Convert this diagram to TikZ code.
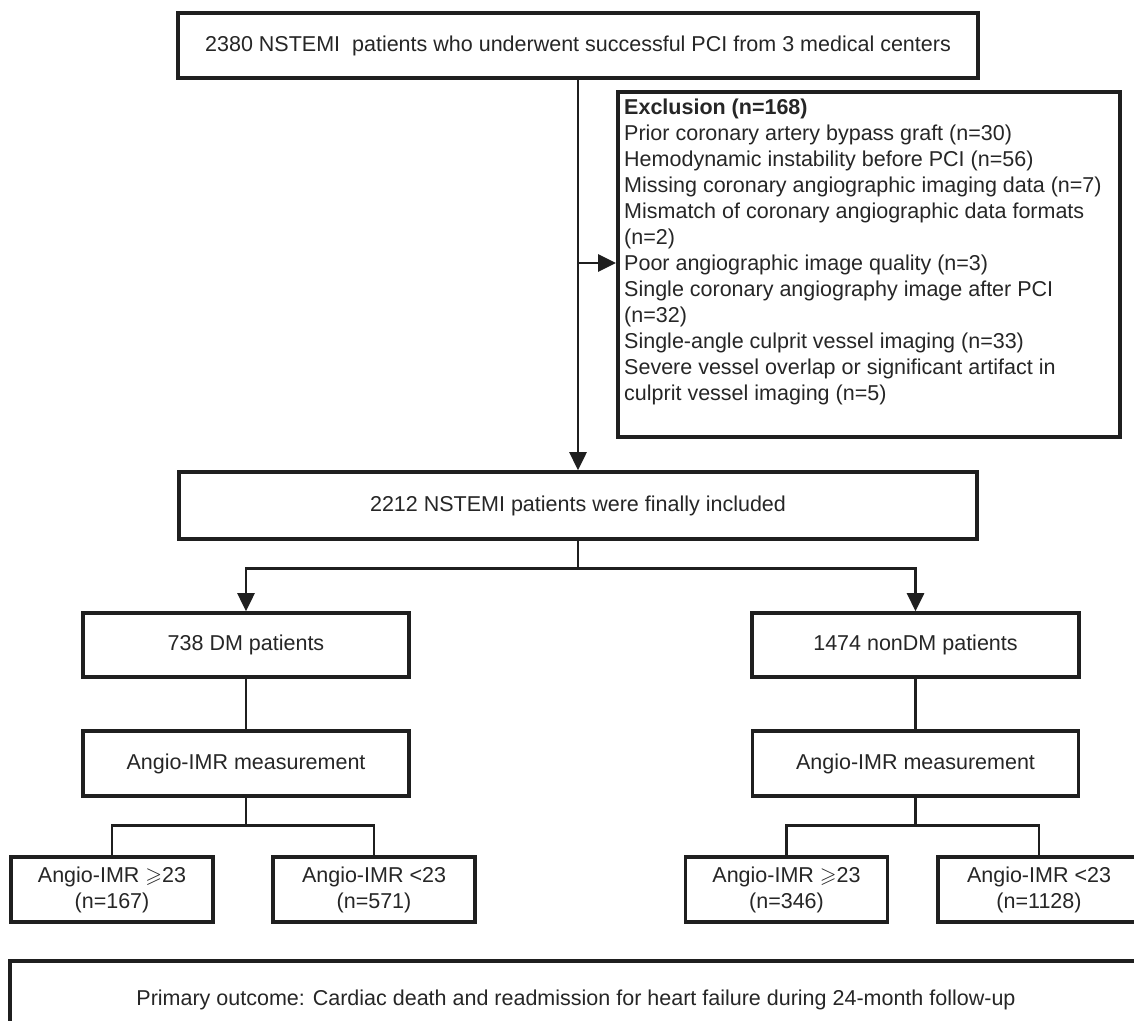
\documentclass[tikz,border=0pt]{standalone}
\usepackage{amssymb}
\usepackage{fontspec}
\setmainfont{Liberation Sans}
\usetikzlibrary{arrows.meta}
\begin{document}
\begin{tikzpicture}[x=1pt,y=-1pt,
  box/.style={draw=black!88, line width=3.6pt, rectangle, inner sep=0pt,
    font=\fontsize{21.5}{26}\selectfont, text=black!85},
  one/.style={text height=15.5pt, text depth=4.5pt},
  conn/.style={draw=black!88, line width=2.7pt},
  arr/.style={conn, -{Triangle[length=18pt,width=17pt]}},
  txt/.style={inner sep=0pt, font=\fontsize{21.5}{26}\selectfont, text=black!85}
]
\useasboundingbox (0,0) rectangle (1134,1020);
\clip (0,0) rectangle (1134,1020);
\fill[white] (0,0) rectangle (1134,1020);

\node[box,one,minimum width=800pt,minimum height=65pt] (top) at (578,45.5)
  {2380 NSTEMI\ \ patients who underwent successful PCI from 3 medical centers};
\node[box,minimum width=502pt,minimum height=345pt,anchor=north west] (excl) at (616,90) {};
\node[txt,align=left,anchor=north west] (excltext) at (624,99)
  {\textbf{Exclusion (n=168)}\\
   Prior coronary artery bypass graft (n=30)\\
   Hemodynamic instability before PCI (n=56)\\
   Missing coronary angiographic imaging data (n=7)\\
   Mismatch of coronary angiographic data formats\\
   (n=2)\\
   Poor angiographic image quality (n=3)\\
   Single coronary angiography image after PCI\\
   (n=32)\\
   Single-angle culprit vessel imaging (n=33)\\
   Severe vessel overlap or significant artifact in\\
   culprit vessel imaging (n=5)};
\node[box,one,minimum width=798pt,minimum height=67pt] (incl) at (578,505.5)
  {2212 NSTEMI patients were finally included};
\node[box,one,minimum width=326pt,minimum height=64pt] (dm) at (246,645) {738 DM patients};
\node[box,one,minimum width=327pt,minimum height=64pt] (nondm) at (915.5,645) {1474 nonDM patients};
\node[box,one,minimum width=326pt,minimum height=65pt] (imr1) at (246,763.5) {Angio-IMR measurement};
\node[box,one,minimum width=326pt,minimum height=65pt] (imr2) at (915.5,763.5) {Angio-IMR measurement};
\node[box,align=center,minimum width=202pt,minimum height=65pt] (hi1) at (112,889.5)
  {Angio-IMR $\geqslant$23\\(n=167)};
\node[box,align=center,minimum width=202pt,minimum height=65pt] (lo1) at (374,889.5)
  {Angio-IMR <23\\(n=571)};
\node[box,align=center,minimum width=202pt,minimum height=65pt] (hi2) at (786.5,889.5)
  {Angio-IMR $\geqslant$23\\(n=346)};
\node[box,align=center,minimum width=202pt,minimum height=65pt] (lo2) at (1039,889.5)
  {Angio-IMR <23\\(n=1128)};
\node[box,one,minimum width=1132pt,minimum height=78pt] (out) at (576,1000)
  {Primary outcome: Cardiac death and readmission for heart failure during 24-month follow-up};

\draw[arr] (top.south) -- (incl.north);
\coordinate (br) at (top.south |- 0,263);
\draw[arr] (br) -- (br -| excl.west);
\draw[arr] (incl.south) -- ++(0,28) -| (dm.north);
\draw[arr] (incl.south) -- ++(0,28) -| (nondm.north);
\draw[conn] (dm.south) -- (imr1.north);
\draw[conn] (nondm.south) -- (imr2.north);
\draw[conn] (imr1.south) -- ++(0,28) -| (hi1.north);
\draw[conn] (imr1.south) -- ++(0,28) -| (lo1.north);
\draw[conn] (imr2.south) -- ++(0,28) -| (hi2.north);
\draw[conn] (imr2.south) -- ++(0,28) -| (lo2.north);
\end{tikzpicture}
\end{document}
